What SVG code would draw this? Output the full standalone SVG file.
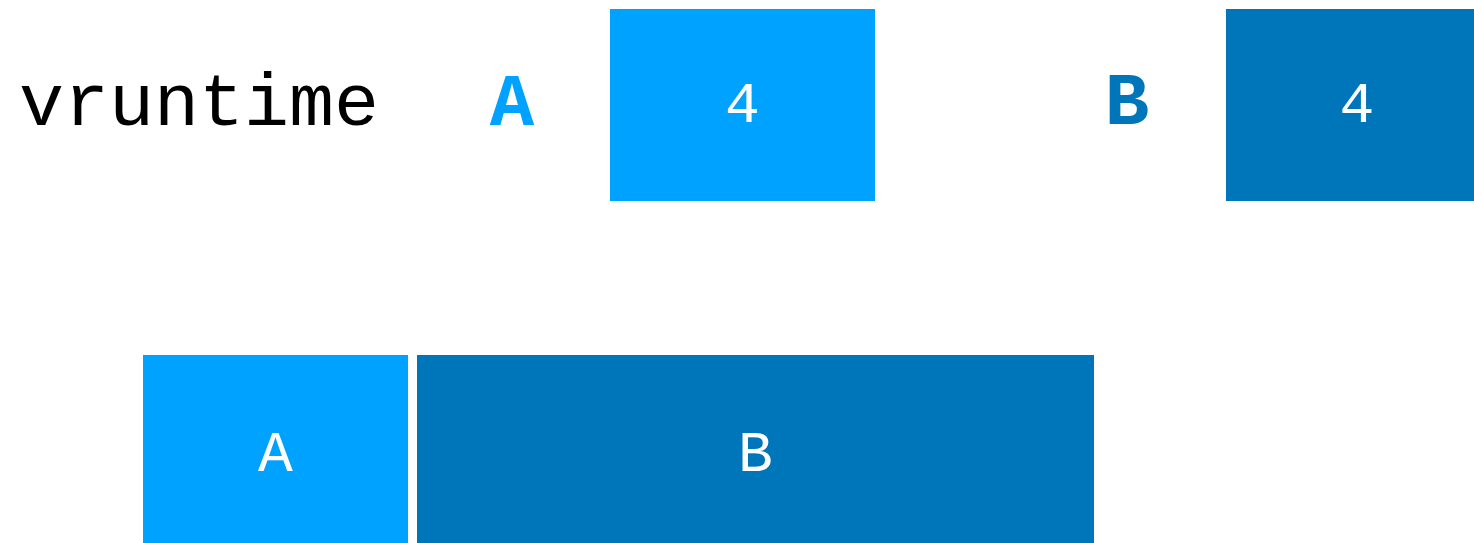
<svg xmlns="http://www.w3.org/2000/svg" width="1474" height="543" viewBox="0 0 1474 543">
<style>
.t{font-family:"Liberation Mono","Courier New",monospace}
.lbl{font-family:"Liberation Mono","Courier New",monospace;fill:#FFFFFF;font-size:58px;text-anchor:middle}
.light{fill:#00A2FF}
.dark{fill:#0076BA}
</style>
<rect width="1474" height="543" fill="#FFFFFF"/>
<text class="t" x="19" y="125" font-size="75" fill="#000000">vruntime</text>
<g id="labelA"><text class="t light" x="512" y="125" font-size="74" font-weight="bold" text-anchor="middle">A</text></g>
<g id="vA"><rect class="light" x="610" y="9" width="265" height="192"/><text class="lbl" x="742.5" y="122">4</text></g>
<g id="labelB"><text class="t dark" x="1127" y="124" font-size="74" font-weight="bold" text-anchor="middle">B</text></g>
<g id="vB"><rect class="dark" x="1226" y="9" width="248" height="192"/><text class="lbl" x="1357" y="122">4</text></g>
<g id="runA"><rect class="light" x="143" y="355" width="265" height="188"/><text class="lbl" x="275.5" y="471">A</text></g>
<g id="runB"><rect class="dark" x="417" y="355" width="677" height="188"/><text class="lbl" x="755.5" y="471">B</text></g>
<g id="connectors"/>
</svg>
